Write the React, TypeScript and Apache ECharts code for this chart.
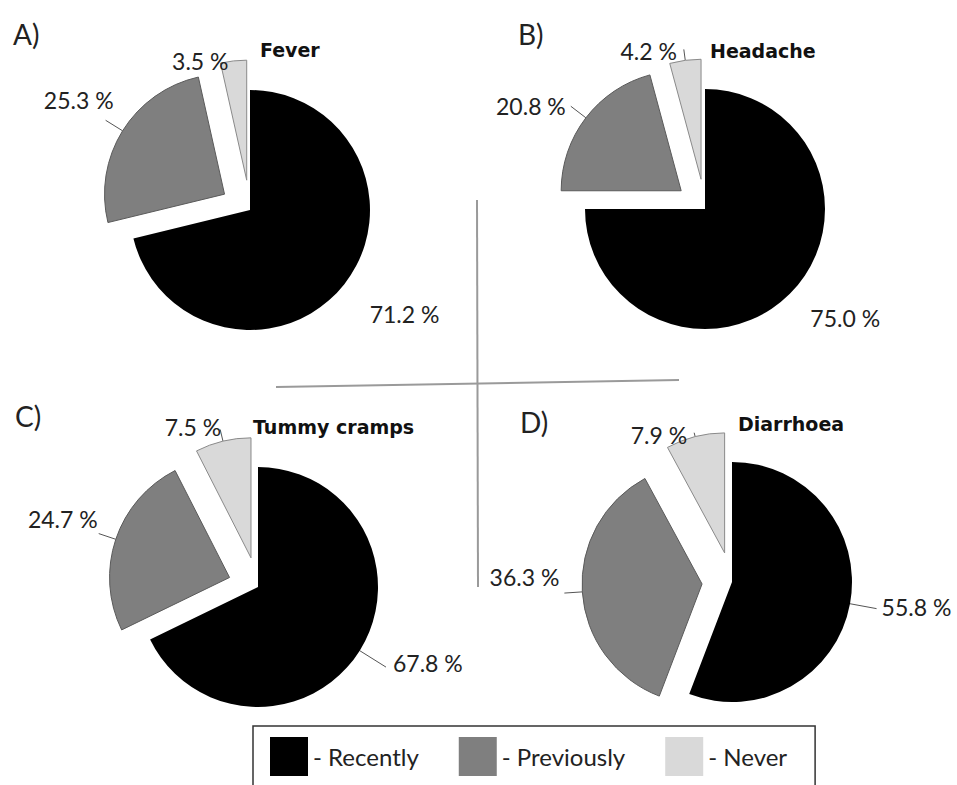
import React, { useEffect, useRef } from "react";
import * as echarts from "echarts";

// ---- data ----
const categories = ["Recently", "Previously", "Never"];
const panelLetters = ["A)", "B)", "C)", "D)"];
const symptoms = ["Fever", "Headache", "Tummy cramps", "Diarrhoea"];
const fever = [71.2, 25.3, 3.5];
const headache = [75.0, 20.8, 4.2];
const tummyCramps = [67.8, 24.7, 7.5];
const diarrhoea = [55.8, 36.3, 7.9];
const seriesValues = [fever, headache, tummyCramps, diarrhoea];

// ---- layout / style ----
const sliceColors = ["#000000", "#7f7f7f", "#d9d9d9"];
const sliceBorders = ["#000000", "#5a5a5a", "#8a8a8a"];
const pieCenters = [
  [250, 210],
  [705, 209],
  [258, 587],
  [732, 582],
];
const pieRadius = 120;
// label line [length, length2, showLine] per pie per slice
const labelLines = [
  [[36, 0, false], [20, 0, true], [0, 0, false]],
  [[29, 0, false], [19, 0, true], [11, 0, true]],
  [[31, 0, true], [18, 0, true], [12, 0, true]],
  [[27, 0, true], [18, 0, true], [4, 0, true]],
];
// fine label nudges [dx, dy] per pie per slice
const labelNudges = [
  [[-8, 8], [13, -20], [0, 0]],
  [[-5, 4], [0, 0], [-2, 2]],
  [[2, -4], [4, -15], [6, -2]],
  [[0, -2], [0, -16], [-2, 2]],
];
const letterPos = [
  [13, 34],
  [518, 34],
  [15, 416],
  [520, 422],
];
const titlePos = [
  [260, 50],
  [710, 51],
  [253, 427],
  [738, 424],
];

export default function App() {
  const ref = useRef<HTMLDivElement>(null);

  useEffect(() => {
    if (!ref.current) return;
    const chart = echarts.init(ref.current, null, { renderer: "svg" });

    const series = seriesValues.map((vals, si) => ({
      type: "pie",
      name: symptoms[si],
      center: pieCenters[si],
      radius: pieRadius,
      startAngle: 90,
      clockwise: true,
      selectedMode: "multiple",
      selectedOffset: 30,
      avoidLabelOverlap: false,
      emphasis: { disabled: true },
      label: {
        show: true,
        position: "outside",
        fontFamily: "Lato",
        fontSize: 23,
        color: "#222",
        formatter: (p: any) => Number(p.value).toFixed(1) + " %",
      },
      labelLine: {
        lineStyle: { color: "#555", width: 1 },
      },
      labelLayout: (p: any) => {
        const n = labelNudges[si][p.dataIndex];
        return { dx: n[0], dy: n[1] };
      },
      data: vals.map((v, i) => ({
        name: categories[i],
        value: v,
        selected: i > 0,
        itemStyle: {
          color: sliceColors[i],
          borderColor: sliceBorders[i],
          borderWidth: i > 0 ? 1 : 0,
        },
        labelLine: {
          show: labelLines[si][i][2] as boolean,
          length: labelLines[si][i][0] as number,
          length2: labelLines[si][i][1] as number,
        },
      })),
    }));

    const graphics: any[] = [
      {
        type: "line",
        shape: { x1: 477, y1: 200, x2: 478, y2: 587 },
        style: { stroke: "#9a9a9a", lineWidth: 2 },
        z: 0,
      },
      {
        type: "line",
        shape: { x1: 276, y1: 387, x2: 679, y2: 380 },
        style: { stroke: "#9a9a9a", lineWidth: 2 },
        z: 0,
      },
    ];
    panelLetters.forEach((t, i) => {
      graphics.push({
        type: "text",
        x: letterPos[i][0],
        y: letterPos[i][1],
        style: {
          text: t,
          font: "28px Lato",
          fill: "#222",
          verticalAlign: "middle",
          align: "left",
        },
      });
    });
    symptoms.forEach((t, i) => {
      graphics.push({
        type: "text",
        x: titlePos[i][0],
        y: titlePos[i][1],
        style: {
          text: t,
          font: "bold 19px 'DejaVu Sans'",
          fill: "#111",
          verticalAlign: "middle",
          align: "left",
        },
      });
    });

    chart.setOption({
      animation: false,
      backgroundColor: "#ffffff",
      legend: {
        data: categories,
        left: 253,
        top: 726,
        orient: "horizontal",
        icon: "rect",
        itemWidth: 38,
        itemHeight: 39,
        itemGap: 40,
        padding: [11, 28, 12, 17],
        borderColor: "#333",
        borderWidth: 1.5,
        selectedMode: false,
        itemStyle: { borderWidth: 0 },
        textStyle: { fontFamily: "Lato", fontSize: 24, color: "#222" },
        formatter: (name: string) => "- " + name,
      },
      graphic: graphics,
      series,
    });

    return () => chart.dispose();
  }, []);

  return (
    <div
      ref={ref}
      style={{ position: "absolute", left: 0, top: 0, width: 957, height: 785 }}
    />
  );
}
